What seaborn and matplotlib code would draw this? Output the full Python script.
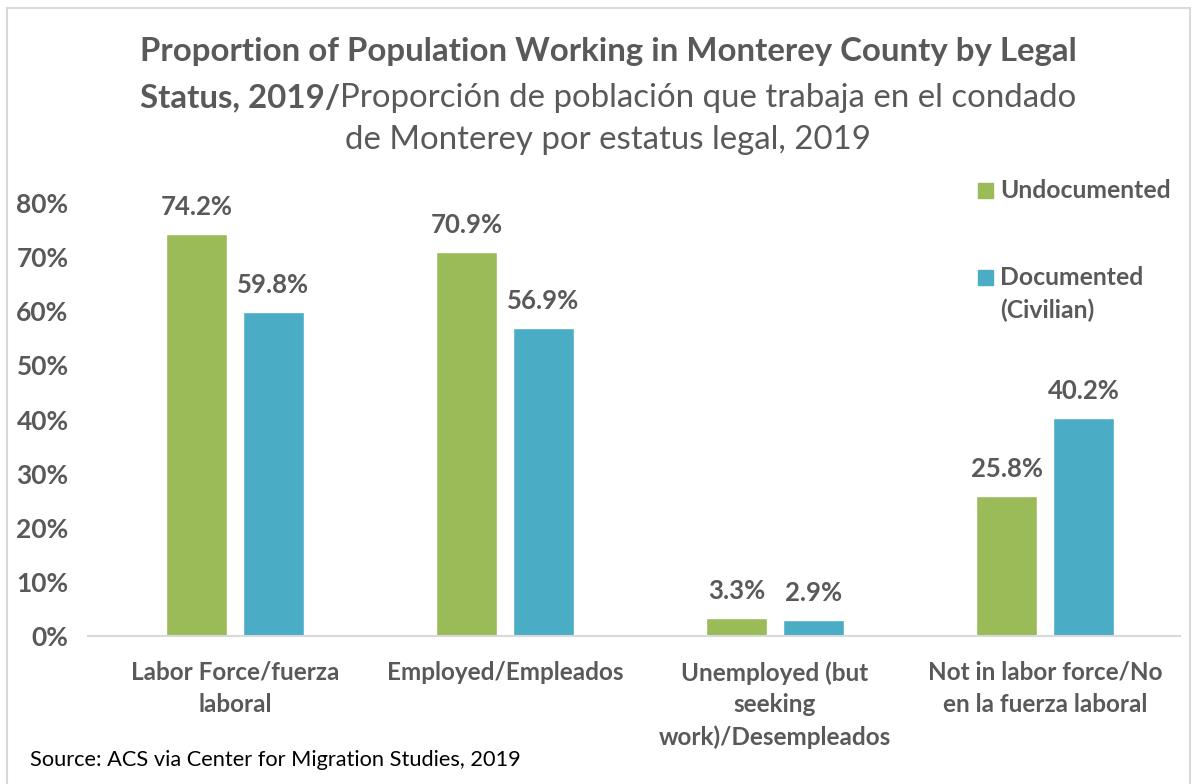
import numpy as np
import pandas as pd
import matplotlib
matplotlib.use("Agg")
import matplotlib.pyplot as plt
from matplotlib.patches import Rectangle
import seaborn as sns

# -----------------------------------------------------------
# DATA
# -----------------------------------------------------------

categories = [
    "Labor Force/fuerza\nlaboral",
    "Employed/Empleados",
    "Unemployed (but\nseeking\nwork)/Desempleados",
    "Not in labor force/No\nen la fuerza laboral",
]
undocumented = [0.742, 0.709, 0.033, 0.258]
documented = [0.598, 0.569, 0.029, 0.402]
series_names = ["Undocumented", "Documented\n(Civilian)"]
yticks = [0.0, 0.1, 0.2, 0.3, 0.4, 0.5, 0.6, 0.7, 0.8]

GREEN = "#9BBB59"
BLUE = "#4BACC6"
TEXT = "#595959"
W, H = 1195, 784

df = pd.DataFrame({
    "category": categories * 2,
    "value": undocumented + documented,
    "status": [series_names[0]] * 4 + [series_names[1]] * 4,
})

# -----------------------------------------------------------
# FIGURE
# -----------------------------------------------------------

sns.set_style("white")
plt.rcParams["font.family"] = ["Lato", "DejaVu Sans"]

fig = plt.figure(figsize=(W / 100, H / 100), dpi=100)
ax = fig.add_axes([88 / W, 1 - 636 / H, (1180 - 88) / W, (636 - 203) / H])

sns.barplot(
    data=df, x="category", y="value", hue="status",
    palette=[GREEN, BLUE], width=0.57, gap=0.2,
    saturation=1, legend=False, ax=ax,
)

for cont, vals in zip(ax.containers, [undocumented, documented]):
    ax.bar_label(
        cont, labels=[f"{v * 100:.1f}%" for v in vals],
        padding=11, fontsize=18.5, fontweight="bold", color=TEXT,
    )

ax.set_ylim(0, 0.8)
ax.set_xlim(-0.544, 3.5)
ax.set_yticks(yticks)
ax.set_yticklabels([f"{v * 100:.0f}%" for v in yticks])
ax.tick_params(axis="y", length=0, pad=14, labelsize=19, labelcolor=TEXT)
ax.tick_params(axis="x", length=0, pad=18, labelsize=17.5, labelcolor=TEXT)
for lab in ax.get_yticklabels() + ax.get_xticklabels():
    lab.set_fontweight("bold")
for lab in ax.get_xticklabels():
    lab.set_linespacing(1.45)
ax.set_xlabel("")
ax.set_ylabel("")
for s in ["top", "right", "left"]:
    ax.spines[s].set_visible(False)
ax.spines["bottom"].set_color("#D9D9D9")
ax.spines["bottom"].set_linewidth(1.5)

# -----------------------------------------------------------
# TITLE (mixed weights)
# -----------------------------------------------------------

cx = 608 / W
fig.text(cx, 1 - 52 / H,
         "Proportion of Population Working in Monterey County by Legal",
         ha="center", va="center", fontsize=23.8, fontweight="bold", color=TEXT)

renderer = fig.canvas.get_renderer()
t_b = fig.text(0, 1 - 98 / H, "Status, 2019/", ha="left", va="center",
               fontsize=23.8, fontweight="bold", color=TEXT)
t_n = fig.text(0, 1 - 98 / H, "Proporción de población que trabaja en el condado",
               ha="left", va="center", fontsize=23.8, color=TEXT)
wb = t_b.get_window_extent(renderer).width
wn = t_n.get_window_extent(renderer).width
x0 = 608 - (wb + wn) / 2
t_b.set_x(x0 / W)
t_n.set_x((x0 + wb) / W)

fig.text(cx, 1 - 140 / H, "de Monterey por estatus legal, 2019",
         ha="center", va="center", fontsize=23.8, color=TEXT)

# -----------------------------------------------------------
# LEGEND
# -----------------------------------------------------------

for (ytop, col) in [(183, GREEN), (270, BLUE)]:
    fig.patches.append(Rectangle((978 / W, 1 - (ytop + 15) / H), 15 / W, 15 / H,
                                 transform=fig.transFigure, color=col))
fig.text(1000 / W, 1 - 190 / H, "Undocumented", ha="left", va="center",
         fontsize=17.8, fontweight="bold", color=TEXT)
fig.text(1000 / W, 1 - 277 / H, "Documented", ha="left", va="center",
         fontsize=17.8, fontweight="bold", color=TEXT)
fig.text(1000 / W, 1 - 310 / H, "(Civilian)", ha="left", va="center",
         fontsize=17.8, fontweight="bold", color=TEXT)

# -----------------------------------------------------------
# SOURCE + BORDER
# -----------------------------------------------------------

fig.text(30 / W, 1 - 760 / H, "Source: ACS via Center for Migration Studies, 2019",
         ha="left", va="center", fontsize=15.7, color="#000000")

fig.patches.append(Rectangle((7 / W, -0.05), (1190 - 7) / W, 1.05 - 8 / H,
                             transform=fig.transFigure, fill=False,
                             edgecolor="#D9D9D9", linewidth=1.5))

fig.savefig("out.png", dpi=100)
